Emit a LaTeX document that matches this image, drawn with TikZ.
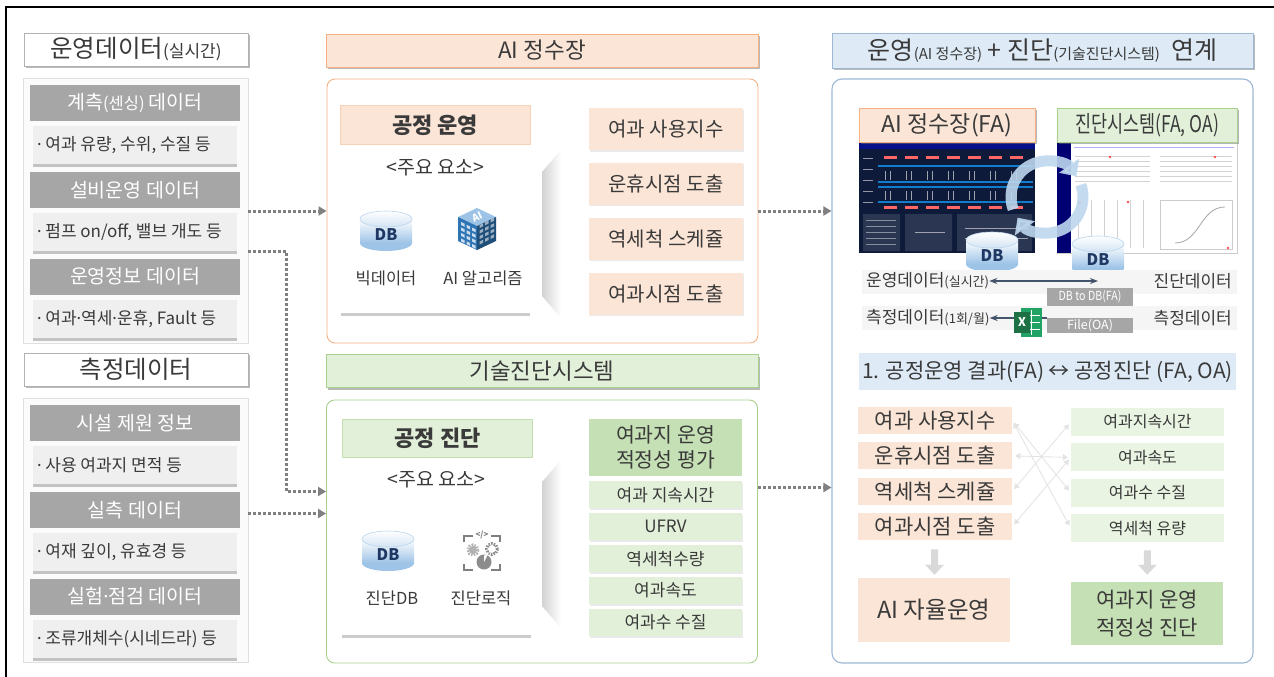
\documentclass[tikz,border=0pt]{standalone}
\usepackage{fontspec}
\setmainfont{Noto Sans CJK KR}
\newfontfamily\dotfont{Noto Sans}
\usetikzlibrary{positioning}
\usetikzlibrary{arrows.meta}
\usetikzlibrary{shadows}

\definecolor{txt}{HTML}{3A3A3A}
\definecolor{orfill}{HTML}{FBE5D6}
\definecolor{ordraw}{HTML}{F4B183}
\definecolor{grfill}{HTML}{E2F0D9}
\definecolor{grmid}{HTML}{C5E0B4}
\definecolor{grdraw}{HTML}{A9D18E}
\definecolor{blfill}{HTML}{DEEBF7}
\definecolor{bldraw}{HTML}{9DB7D5}
\definecolor{barfill}{HTML}{A6A6A6}
\definecolor{itemfill}{HTML}{EFEFEF}
\definecolor{dbblue}{HTML}{9DC3E6}
\definecolor{dbtext}{HTML}{1F3864}
\definecolor{navy}{HTML}{0E1A3A}
\definecolor{linkgray}{HTML}{44546A}
\definecolor{cyc}{HTML}{BDD7EE}
\definecolor{aitop}{HTML}{9DC3E6}
\definecolor{aileft}{HTML}{2E75B6}
\definecolor{airight}{HTML}{1F4E79}
\definecolor{xldark}{HTML}{1E7145}
\definecolor{xllight}{HTML}{21A366}

\newcommand{\fsz}[1]{\fontsize{#1}{#1}\selectfont}
\newcommand{\md}{{\dotfont ·}}
\newcommand{\itemline}[1]{\makebox[196pt][l]{#1}}

% database cylinder with a named centre node
\newcommand{\dbcyl}[2]{%
    \begin{scope}[shift={(#1)}]
        \fill[dbblue] (0,12) ellipse (26 and 8);
        \shade[top color=white, bottom color=dbblue] (-26,-12) rectangle (26,12);
        \shade[top color=white, bottom color=dbblue!45] (0,-12) ellipse (26 and 8);
        \draw[dbblue!70, line width=.6pt] (0,-12) ellipse (26 and 8);
        \node[font=\bfseries\fsz{16}, text=dbtext] (#2) at (0,4) {DB};
    \end{scope}}

\tikzset{
    every node/.append style={text=txt, inner sep=0pt},
    boxshadow/.style={drop shadow={shadow xshift=1.5pt, shadow yshift=-2pt, fill=black!55, opacity=.5}},
    head/.style={draw=gray!60, fill=white, boxshadow, minimum width=224pt, minimum height=33pt,
        font=\fsz{24.5}},
    panel/.style={draw=gray!25, fill=gray!3, minimum width=225pt},
    databar/.style={fill=barfill, text=white, minimum width=210pt, minimum height=36pt,
        font=\fsz{19.5}},
    dataitem/.style={fill=itemfill, drop shadow={shadow xshift=0pt, shadow yshift=-2.5pt,
        fill=black!50, opacity=.45}, minimum width=204pt, minimum height=38pt,
        font=\fsz{17}},
    stagehead/.style={boxshadow, minimum width=432pt, minimum height=33pt, font=\fsz{22.5}},
    stagepanel/.style={rounded corners=8pt, fill=white, line width=.9pt, minimum width=431pt},
    taskbox/.style={minimum width=190pt, minimum height=39pt, font=\bfseries\fsz{22}},
    card/.style={fill=white, drop shadow={shadow xshift=0pt, shadow yshift=-2.5pt,
        fill=black!50, opacity=.4}, minimum width=189pt},
    outitem/.style={fill=orfill, minimum width=154pt, minimum height=42pt, font=\fsz{20},
        drop shadow={shadow xshift=1pt, shadow yshift=-1.5pt, fill=black!20, opacity=.4}},
    evalitem/.style={fill=grfill, minimum width=153pt, minimum height=27pt, font=\fsz{17},
        drop shadow={shadow xshift=1pt, shadow yshift=-1.5pt, fill=black!20, opacity=.4}},
    tag/.style={boxshadow, minimum width=176pt, minimum height=34pt, font=\fsz{23}},
    graytag/.style={fill=barfill, text=white, minimum width=86pt, font=\fsz{12.5}},
    opitem/.style={fill=orfill, minimum width=154pt, minimum height=27pt, font=\fsz{21}},
    dxitem/.style={fill=grfill!75, minimum width=153pt, minimum height=28pt, font=\fsz{16}},
    flow/.style={draw=gray, line width=3pt, dash pattern=on 2.6pt off 2.4pt,
        -{Triangle[length=8pt,width=9pt]}},
    crossline/.style={draw=gray!22, line width=.8pt,
        {Triangle[length=5pt,width=6pt]}-{Triangle[length=5pt,width=6pt]},
        shorten <=3pt, shorten >=3pt},
    downarrow/.style={draw=gray!30, line width=7pt, -{Triangle[length=10pt,width=18pt]}},
    cycarrow/.style={draw=cyc, line width=11pt, opacity=.9, -{Triangle[length=13pt,width=24pt]}}
}

\begin{document}
\begin{tikzpicture}[x=1pt, y=-1pt]
\useasboundingbox (0,0) rectangle (1274,677);
% outer frame
\draw[line width=1.2pt] (6,677) -- (6,7) -- (1274,7);

% ---- operation data (real time) ----
\node[head] (livehead) at (136,49.5) {운영데이터{\fsz{17}(실시간)}};
\node[panel, minimum height=265pt] (livepanel) at (135.5,210.5) {};
\node[databar] (sensebar) at (135,103) {계측{\fsz{16.5}(센싱)} 데이터};
\node[dataitem, below=5pt of sensebar] (senseitem) {\itemline{\md\ 여과 유량, 수위, 수질 등}};
\node[databar, below=7pt of senseitem] (equipbar) {설비운영 데이터};
\node[dataitem, below=5pt of equipbar] (equipitem) {\itemline{\md\ 펌프 on/off, 밸브 개도 등}};
\node[databar, below=7pt of equipitem] (infobar) {운영정보 데이터};
\node[dataitem, below=5pt of infobar] (infoitem) {\itemline{\md\ 여과\md 역세\md 운휴, Fault 등}};

% ---- measured data ----
\node[head] (meashead) at (136,369.5) {측정데이터};
\node[panel, minimum height=264pt] (measpanel) at (135.5,530) {};
\node[databar] (sitebar) at (135,423) {시설 제원 정보};
\node[dataitem, below=5pt of sitebar] (siteitem) {\itemline{\md\ 사용 여과지 면적 등}};
\node[databar, below=7pt of siteitem] (fieldbar) {실측 데이터};
\node[dataitem, below=5pt of fieldbar] (fielditem) {\itemline{\md\ 여재 깊이, 유효경 등}};
\node[databar, below=7pt of fielditem] (labbar) {실험\md 점검 데이터};
\node[dataitem, below=5pt of labbar] (labitem) {\itemline{\md\ 조류개체수(시네드라) 등}};

% ---- AI plant ----
\node[stagehead, fill=orfill, draw=ordraw] (aihead) at (542,50.5) {AI 정수장};
\node[stagepanel, draw=ordraw, minimum height=264pt] (aipanel) at (542.5,211) {};
\node[taskbox, fill=orfill, draw=ordraw!60] (opstage) at (435,125) {공정 운영};
\node[card, minimum height=153pt] (opcard) at (435.5,236.5) {};
\node[font=\fsz{19.5}, below=-1pt of opcard.north] (opkeys) {<주요 요소>};
\dbcyl{386,231}{opdb}
% AI cube
\begin{scope}[shift={(477,230)}]
    \fill[aitop] (0,-22) -- (19,-13) -- (0,-4) -- (-19,-13) -- cycle;
    \fill[aileft] (-19,-13) -- (0,-4) -- (0,20) -- (-19,11) -- cycle;
    \fill[airight] (0,-4) -- (19,-13) -- (19,11) -- (0,20) -- cycle;
    \foreach \a in {0,1,2} \foreach \b in {0,1,2,3}
        \fill[white!75!aileft] (-16+5.5*\a,-8+2.75*\a+5.5*\b) -- ++(3.5,1.75) -- ++(0,3) -- ++(-3.5,-1.75) -- cycle;
    \foreach \a in {0,1,2} \foreach \b in {0,1,2,3}
        \fill[white!55!airight] (2.5+5.5*\a,-5-2.75*\a+5.5*\b) -- ++(3.5,-1.75) -- ++(0,3) -- ++(-3.5,1.75) -- cycle;
    \node[text=white, font=\bfseries\fsz{10}, rotate=25] at (0,-13) {AI};
\end{scope}
\node[font=\fsz{16.5}] (bigdata) at (386,278) {빅데이터};
\node[font=\fsz{16.5}] (algo) at (483,278) {AI 알고리즘};
\shade[left color=gray!35, right color=white] (542,172) -- (561,150) -- (561,318) -- (542,296) -- cycle;
\node[outitem] (useidx) at (666,129) {여과 사용지수};
\node[outitem, below=12.5pt of useidx] (resttime) {운휴시점 도출};
\node[outitem, below=12.5pt of resttime] (backwash) {역세척 스케쥴};
\node[outitem, below=12.5pt of backwash] (filttime) {여과시점 도출};

% ---- diagnosis system ----
\node[stagehead, fill=grfill, draw=grdraw] (diaghead) at (542,371) {기술진단시스템};
\node[stagepanel, draw=grdraw, minimum height=263pt] (diagpanel) at (542,531.5) {};
\node[taskbox, fill=grfill, draw=grdraw!70, minimum height=38pt] (dxstage) at (437.5,438) {공정 진단};
\node[card, minimum height=163pt] (dxcard) at (436.5,553.5) {};
\node[font=\fsz{19.5}, below=-1pt of dxcard.north] (dxkeys) {<주요 요소>};
\dbcyl{388,551}{dxdb}
% logic icon
\begin{scope}[shift={(482,553)}, gray]
    \draw[line width=1.3pt] (-18,-11) -- (-18,-17) -- (-9,-17) (9,-17) -- (18,-17) -- (18,-11);
    \draw[line width=1.3pt] (-18,11) -- (-18,17) -- (-9,17) (9,17) -- (18,17) -- (18,11);
    \node[text=gray, font=\bfseries\fsz{8}] at (0,-18) {</>};
    \draw[gray!60, line width=3pt, dash pattern=on 1.5pt off 1.2pt] (-9,-3) circle (5);
    \fill[gray!60] (-9,-3) circle (4);
    \draw[gray!90, line width=3pt, dash pattern=on 1.5pt off 1.2pt] (10,-4) circle (5.5);
    \fill[white] (10,-4) circle (2.5);
    \fill[gray!90] (2,9) circle (7.5);
    \fill[white] (2,9) -- (2,2.5) arc (90:0:6.5) -- cycle;
\end{scope}
\node[font=\fsz{16.5}] (dxdbname) at (392,598) {진단DB};
\node[font=\fsz{16.5}] (logic) at (481,598) {진단로직};
\shade[left color=gray!35, right color=white] (542,482) -- (561,460) -- (561,628) -- (542,606) -- cycle;
\node[fill=grmid, minimum width=153pt, minimum height=57pt, align=center,
    font=\fontsize{20.5}{25}\selectfont] (evalhead) at (665.5,447.5) {여과지 운영\\적정성 평가};
\node[evalitem, below=5pt of evalhead] (duration) {여과 지속시간};
\node[evalitem, below=4.5pt of duration] (ufrv) {UFRV};
\node[evalitem, below=4.5pt of ufrv] (washvol) {역세척수량};
\node[evalitem, below=4.5pt of washvol] (filtspeed) {여과속도};
\node[evalitem, below=4.5pt of filtspeed] (filtqual) {여과수 수질};

% ---- linkage of operation and diagnosis ----
\node[minimum width=421pt, minimum height=35pt, fill=blfill, draw=bldraw, boxshadow,
    font=\fsz{25}] (linkhead) at (1042.5,50.5)
    {운영{\fsz{15}(AI 정수장)}\ + 진단{\fsz{15}(기술진단시스템)}\ \ 연계};
\node[rounded corners=10pt, draw=bldraw, line width=1.1pt, fill=white,
    minimum width=421pt, minimum height=584pt] (linkpanel) at (1042.5,371) {};

% plant dashboard
\fill[navy] (859,142) rectangle (1035,253);
\fill[navy!60!blue] (859,142) rectangle (1035,149);
\foreach \i in {0,...,6} {
    \fill[red!60!white] (884+\i*21,156) rectangle ++(13,3);
    \fill[red!60!white] (884+\i*21,206) rectangle ++(13,3);
    \draw[white!60!navy, line width=.7pt] (885+\i*21,171) -- ++(0,9) (890+\i*21,171) -- ++(0,9);
    \draw[white!60!navy, line width=.7pt] (885+\i*21,191) -- ++(0,9) (890+\i*21,191) -- ++(0,9);
}
\draw[cyan!60!blue, line width=1.2pt] (878,166) -- (1033,166) (878,182) -- (1033,182)
    (878,187) -- (1033,187) (878,202) -- (1033,202);
\foreach \j in {0,...,4}
    \draw[white!55!navy, line width=1pt] (863,158+\j*11) -- ++(10,0);
\fill[white!12!navy] (863,214) rectangle (900,251) (905,214) rectangle (952,251) (957,214) rectangle (1032,251);
\foreach \j in {0,...,4}
    \draw[white!50!navy, line width=.8pt] (866,220+\j*6) -- ++(30,0);
\draw[white!60!navy, line width=.8pt] (915,232) -- (945,232) (965,228) -- (1028,228) (965,238) -- (1028,238);

% diagnosis screen
\fill[white] (1057,142) rectangle (1237,253);
\draw[gray!40] (1057,142) rectangle (1237,253);
\fill[blue!45!black] (1057,142) rectangle (1071,253);
\draw[blue!30, line width=1pt] (1074,147) -- (1234,147);
\foreach \r in {0,...,5}
    \draw[gray!35, line width=.6pt] (1075,156+\r*5) -- (1150,156+\r*5) (1160,156+\r*5) -- (1232,156+\r*5);
\foreach \c in {0,...,5}
    \draw[gray!35, line width=.6pt] (1078+\c*13,200) -- ++(0,48);
\draw[gray!40] (1160,200) rectangle (1232,249);
\draw[gray!70, line width=.8pt] (1175,243) .. controls (1200,243) and (1200,207) .. (1225,207);
\fill[red!70] (1110,157) circle (1.3) (1215,157) circle (1.3) (1080,203) circle (1.3)
    (1128,202) circle (1.3) (1228,248) circle (1.3);

% exchange cycle
\draw[cycarrow] ([shift={(-200:36)}]1047,197) arc[start angle=-200, end angle=-35, radius=36];
\draw[cycarrow] ([shift={(-20:36)}]1047,197) arc[start angle=-20, end angle=145, radius=36];

\node[tag, fill=orfill, draw=ordraw] (fatag) at (947,125) {AI 정수장(FA)};
\node[tag, fill=grfill, draw=grdraw, minimum width=180pt] (dstag) at (1147,125)
    {\scalebox{.76}[1]{진단시스템(FA, OA)}};

\dbcyl{992,252}{fadb}
\dbcyl{1098,256}{dsdb}

\fill[gray!8] (862,270) rectangle (1237,294);
\fill[gray!8] (862,306) rectangle (1237,330);
\node[anchor=west, font=\fsz{17}] (livedata) at (866,281) {운영데이터{\fsz{13}(실시간)}};
\node[anchor=east, font=\fsz{17}] (dxdata) at (1232,281) {진단데이터};
\node[anchor=west, font=\fsz{17}] (measdata) at (866,318) {측정데이터{\fsz{13}(1회/월)}};
\node[anchor=east, font=\fsz{17}] (measdata2) at (1232,318) {측정데이터};
\node[graytag, minimum height=18pt] (dbtag) at (1090,297) {\scalebox{.85}[1]{DB to DB(FA)}};
\node[graytag, minimum height=15pt] (filetag) at (1090,325.5) {File(OA)};
\draw[linkgray, line width=1.6pt, {Stealth[length=8pt]}-{Stealth[length=8pt]}]
    (livedata.east) -- (livedata.east -| dsdb.center);
\draw[linkgray, line width=1.6pt, -{Stealth[length=8pt]}]
    (measdata.east -| filetag.west) -- (measdata.east);
% spreadsheet icon
\fill[xllight] (1021,308) rectangle (1042,337);
\draw[white, line width=.7pt] (1031,310) -- (1031,335) (1023,315) -- (1040,315)
    (1023,322) -- (1040,322) (1023,329) -- (1040,329);
\fill[xldark] (1014,312) rectangle (1030,333);
\node[text=white, font=\bfseries\fsz{12}] (xlmark) at (1022,322.5) {X};

\node[fill=blfill, minimum width=377pt, minimum height=37pt, font=\fsz{21}] (flowhead)
    at (1047.5,371.5) {1. 공정운영 결과(FA) ↔ 공정진단 (FA, OA)};

\node[opitem] (opuse) at (935,420.5) {여과 사용지수};
\node[opitem, below=8pt of opuse] (oprest) {운휴시점 도출};
\node[opitem, below=8pt of oprest] (opwash) {역세척 스케쥴};
\node[opitem, below=8pt of opwash] (opfilt) {여과시점 도출};
\node[dxitem] (dxdur) at (1147.5,422) {여과지속시간};
\node[dxitem, below=7pt of dxdur] (dxspeed) {여과속도};
\node[dxitem, below=7pt of dxspeed] (dxqual) {여과수 수질};
\node[dxitem, below=7pt of dxqual] (dxflow) {역세척 유량};
\draw[crossline] (opuse.east) -- (dxqual.west);
\draw[crossline] (opuse.east) -- (dxflow.west);
\draw[crossline] (oprest.east) -- (dxspeed.west);
\draw[crossline] (opwash.east) -- (dxdur.west);
\draw[crossline] (opfilt.east) -- (dxspeed.west);

\node[fill=orfill, minimum width=152pt, minimum height=64pt, font=\fsz{23.5}] (aiauto)
    at (934,610) {AI 자율운영};
\node[fill=grmid, minimum width=152pt, minimum height=63pt, align=center,
    font=\fontsize{21}{28}\selectfont] (dxresult) at (1147,613.5) {여과지 운영\\적정성 진단};
\draw[downarrow, shorten <=9pt, shorten >=3pt] (opfilt) -- (aiauto);
\draw[downarrow, shorten <=8pt, shorten >=7pt] (dxflow) -- (dxresult);

% ---- data flow ----
\coordinate (diagin) at ([yshift=18pt]diagpanel.west);
\coordinate (diagout) at ([yshift=44pt]diagpanel.east);
\draw[flow] (livepanel.east |- aipanel.west) -- (aipanel.west);
\draw[flow] (livepanel.east |- equipitem.south) -- ++(38,0) |- ([yshift=40pt]diagpanel.west);
\draw[flow] (measpanel.east |- diagin) -- (diagin);
\draw[flow] (aipanel.east) -- (linkpanel.west |- aipanel.east);
\draw[flow] (diagout) -- (linkpanel.west |- diagout);
\end{tikzpicture}
\end{document}
